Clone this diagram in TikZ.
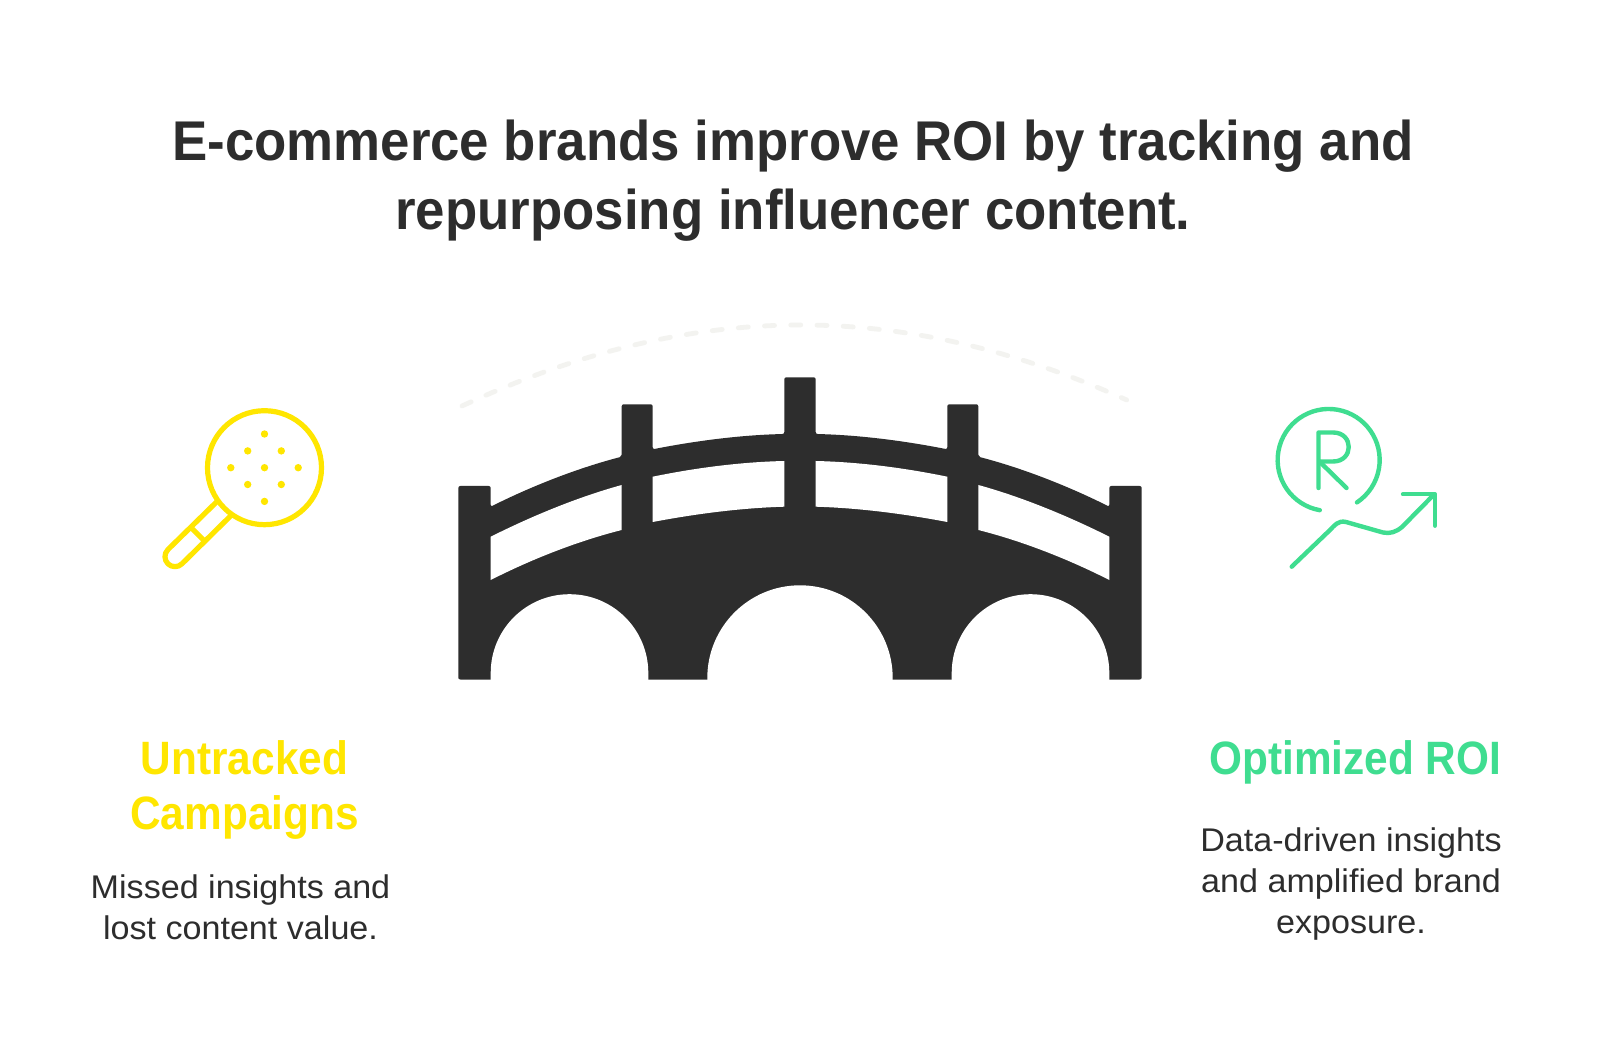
\documentclass[tikz,border=0pt]{standalone}
\usetikzlibrary{calc}
\usepackage{fontspec}
\setmainfont{Liberation Sans}
\newfontfamily\titlefam[FakeStretch=0.943]{Liberation Sans}
\newfontfamily\headfam[FakeStretch=0.905]{Liberation Sans}
\newfontfamily\bodyfam[FakeStretch=1.04]{Liberation Sans}
\definecolor{ink}{HTML}{2D2D2D}
\definecolor{ylw}{HTML}{FFE600}
\definecolor{grn}{HTML}{3FDD90}
\definecolor{dashc}{HTML}{F3F3F0}
\tikzset{
 titlet/.style={font=\titlefam\fontsize{28}{34.2}\selectfont\bfseries,text=ink,align=center,inner sep=0},
 headt/.style={font=\headfam\fontsize{23.4}{27.5}\selectfont\bfseries,align=center,inner sep=0},
 bodyt/.style={font=\bodyfam\fontsize{16.4}{20.4}\selectfont,text=ink,align=center,inner sep=0},
 yline/.style={draw=ylw,line width=2.6pt,line cap=round,line join=round},
 gline/.style={draw=grn,line width=2.2pt,line cap=round,line join=round},
}
\begin{document}
\begin{tikzpicture}[x=0.5pt,y=-0.5pt]
\useasboundingbox (0,0) rectangle (1600,1058);
\fill[white] (0,0) rectangle (1600,1058);
\node[titlet] (title) at (793,180.5) {E-commerce brands improve ROI by tracking and\\repurposing influencer content.};
% dashed arc
\draw[dashc,line width=2.4pt,line cap=round,dash pattern=on 5pt off 8.12pt] (462,406) .. controls (690,300) and (900,298) .. (1126.7,400);
% bridge
\fill[ink,rounded corners=1pt]
 (458.3,679.5) -- (458.3,486) -- (490.7,486) -- (490.7,506.7)
 .. controls (532,486) and (578,468) .. (621.7,456.7) -- (621.7,404.3) -- (652.7,404.3) -- (652.7,449.3)
 .. controls (695,441) and (740,435) .. (784.3,434) -- (784.3,377.3) -- (815.7,377.3) -- (815.7,434)
 .. controls (860,435) and (905,441) .. (947.3,449.3) -- (947.3,404.3) -- (978.3,404.3) -- (978.3,456.7)
 .. controls (1022,468) and (1068,486) .. (1109.3,506.7) -- (1109.3,486) -- (1141.7,486) -- (1141.7,679.5)
 -- (458.3,679.5) -- cycle;
\fill[white] (1109.3,680) -- (1109.3,673) arc[start angle=0,end angle=-180,radius=78.8] -- (951.7,680) -- cycle;
\fill[white] (892.7,680) -- (892.7,678) arc[start angle=0,end angle=-180,radius=92.7] -- (707.3,680) -- cycle;
\fill[white] (648.3,680) -- (648.3,673) arc[start angle=0,end angle=-180,radius=78.8] -- (490.7,680) -- cycle;
\fill[white]
 (490.7,536.7) .. controls (532,516) and (578,497) .. (621.7,485) -- (621.7,530) .. controls (578,541) and (532,559) .. (490.7,580) -- cycle;
\fill[white]
 (652.7,476.7) .. controls (695,468) and (740,462) .. (784.3,461) -- (784.3,506.7) .. controls (740,508) and (695,514) .. (652.7,522) -- cycle;
\fill[white]
 (815.7,461) .. controls (860,462) and (905,468) .. (947.3,476.7) -- (947.3,522) .. controls (905,514) and (860,508) .. (815.7,506.7) -- cycle;
\fill[white]
 (978.3,485) .. controls (1022,497) and (1068,516) .. (1109.3,536.7) -- (1109.3,580) .. controls (1068,559) and (1022,541) .. (978.3,530) -- cycle;
% magnifier
\coordinate (mc) at (264.5,467.7);
\draw[yline] (mc) circle[radius=57];
\foreach \dx/\dy in {0/0,0/-33.7,0/33.7,-33.7/0,33.7/0,-16.8/-16.8,16.8/-16.8,-16.8/16.8,16.8/16.8}
 \fill[ylw] ($(mc)+(\dx,\dy)$) circle[radius=3.7];
\draw[yline] (216.5,502) -- (167.9,549.6) arc[start angle=225,end angle=45,radius=10] -- (230.5,516);
\draw[yline] (191.5,528) -- (203.5,540);
% R icon
\draw[gline] (1319.8,510.2) arc[start angle=100,end angle=416.3,radius=51];
\draw[gline] (1318.5,488) -- (1318.5,432.5) -- (1333,432.5) .. controls (1354,432.5) and (1354,461.5) .. (1333,461.5) -- (1318.5,461.5);
\draw[gline] (1321.5,463.5) -- (1346.5,488);
% arrow
\draw[gline] (1291.7,566.7) -- (1330,530) .. controls (1334,526) and (1338,520) .. (1346,522) -- (1383,532.5) .. controls (1390,534) and (1396,532) .. (1402,527) -- (1434,494.5);
\draw[gline] (1403,494.3) -- (1435,494.3) -- (1435,525.7);
% labels
\node[headt,text=ylw] (untracked) at (244.5,790) {Untracked\\Campaigns};
\node[headt,text=grn,anchor=east] (opt) at (1501.5,762) {Optimized ROI};
\node[bodyt] (b1) at (240.5,907) {Missed insights and\\lost content value.};
\node[bodyt] (b2) at (1351,884) {Data-driven insights\\and amplified brand\\exposure.};
\end{tikzpicture}
\end{document}
